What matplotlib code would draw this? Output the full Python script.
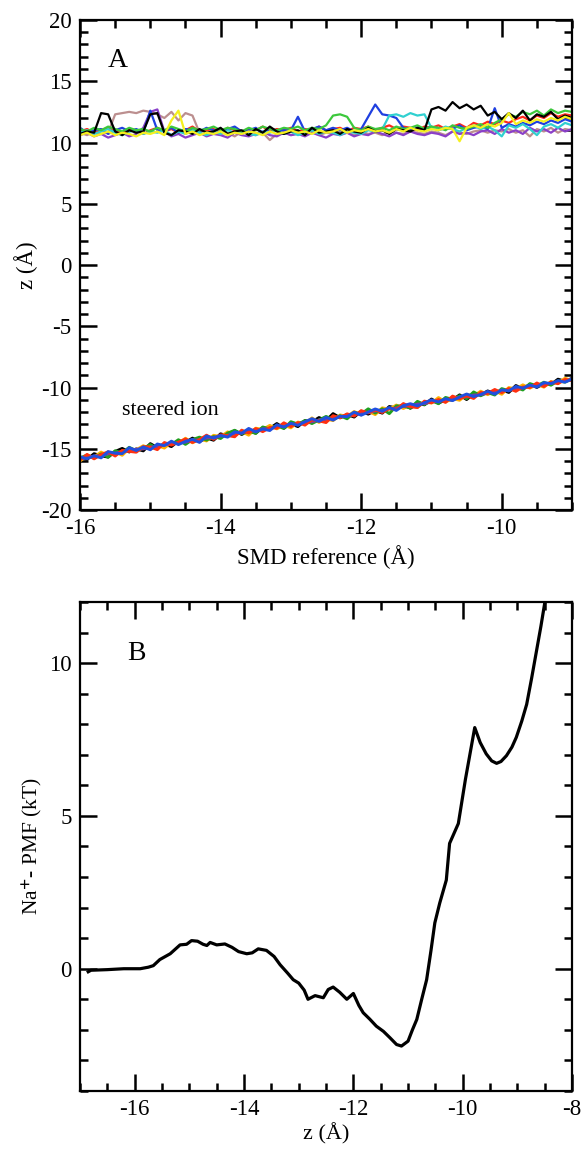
import numpy as np
import matplotlib
matplotlib.use('Agg')
import matplotlib.pyplot as plt
from matplotlib.ticker import MultipleLocator

# --- Panel A: SMD trajectories (z vs reference), sampled every 0.1 A ---
smd_ref = np.linspace(-16.0, -9.0, 71)

# upper group (ions sitting near z ~ 11)
up_black = [10.7, 10.9, 10.8, 12.4, 12.3, 10.9, 10.6, 11.0, 10.8, 10.9,
            12.3, 12.4, 10.8, 10.6, 11.0, 10.9, 10.7, 11.1, 10.8, 10.9,
            11.2, 10.7, 10.9, 11.0, 10.6, 11.1, 10.8, 11.3, 10.9, 10.7,
            10.9, 11.0, 10.6, 11.2, 10.8, 10.9, 11.0, 10.7, 11.1, 10.9,
            10.8, 11.2, 10.9, 11.0, 10.7, 11.1, 11.0, 10.9, 11.2, 11.0,
            12.7, 12.9, 12.6, 13.3, 12.8, 13.1, 12.7, 13.0, 12.2, 12.5,
            11.9, 12.4, 12.0, 12.6, 11.8, 12.3, 12.1, 12.5, 11.9, 12.2, 12.0]
up_red = [10.9, 11.1, 10.8, 11.0, 11.2, 10.9, 10.8, 11.1, 11.0, 10.7,
          11.0, 11.2, 10.9, 11.1, 10.8, 11.0, 11.3, 10.9, 11.0, 11.1,
          10.8, 11.2, 11.0, 10.9, 11.1, 11.0, 11.3, 10.9, 11.1, 11.0,
          11.2, 10.9, 11.1, 11.0, 11.3, 11.0, 11.1, 11.2, 10.9, 11.2,
          11.1, 11.3, 11.0, 11.2, 11.4, 11.1, 11.3, 11.2, 11.0, 11.3,
          11.2, 11.4, 11.1, 11.3, 11.5, 11.2, 11.6, 11.4, 11.7, 11.5,
          11.8, 11.6, 11.9, 12.1, 11.8, 12.2, 12.0, 12.4, 12.1, 12.3, 12.2]
up_green = [11.1, 10.9, 11.2, 11.0, 11.3, 11.1, 10.9, 11.2, 11.0, 11.1,
            10.9, 11.2, 11.0, 11.3, 11.1, 10.9, 11.2, 11.0, 11.1, 11.3,
            11.0, 11.2, 11.1, 10.9, 11.2, 11.0, 11.3, 11.1, 11.0, 11.2,
            11.1, 11.3, 11.0, 11.2, 11.1, 11.4, 12.2, 12.3, 12.1, 11.2,
            11.0, 11.3, 11.1, 11.2, 11.0, 11.3, 11.1, 11.2, 11.4, 11.1,
            11.3, 11.2, 11.0, 11.4, 11.2, 11.1, 11.3, 11.5, 11.2, 11.6,
            11.9, 12.3, 12.1, 12.5, 12.3, 12.6, 12.2, 12.7, 12.4, 12.6, 12.5]
up_blue = [11.2, 10.8, 11.0, 11.1, 10.7, 11.0, 11.2, 10.9, 11.1, 10.8,
           12.6, 11.0, 10.9, 11.2, 10.8, 11.1, 11.0, 10.9, 11.2, 11.0,
           10.8, 11.1, 11.3, 10.9, 11.0, 11.2, 10.8, 11.1, 11.0, 11.0,
           11.0, 12.1, 10.9, 11.1, 11.3, 11.0, 11.2, 11.0, 11.2, 10.9,
           11.1, 12.1, 13.1, 12.3, 12.2, 12.0, 11.2, 11.0, 11.2, 11.1,
           11.3, 11.0, 11.2, 11.1, 11.4, 11.0, 11.2, 11.3, 11.1, 12.8,
           11.2, 11.5, 11.3, 11.6, 11.4, 11.7, 11.5, 11.8, 11.6, 11.9, 11.7]
up_yellow = [10.6, 10.8, 10.5, 10.7, 10.9, 10.6, 10.8, 10.7, 10.5, 10.8,
             10.7, 10.9, 10.6, 11.8, 12.6, 10.7, 10.9, 10.6, 10.8, 10.7,
             10.9, 10.6, 10.8, 10.7, 10.9, 10.8, 10.6, 10.9, 10.7, 10.8,
             11.0, 10.8, 10.9, 10.7, 11.0, 10.8, 10.9, 11.1, 10.8, 11.0,
             10.9, 11.1, 10.9, 11.0, 10.8, 11.1, 10.9, 11.2, 11.0, 10.9,
             11.1, 11.0, 11.2, 11.1, 10.1, 11.2, 11.4, 11.2, 11.5, 11.3,
             11.6, 12.4, 11.5, 11.8, 11.6, 11.9, 11.7, 12.0, 11.8, 12.1, 11.9]
up_brown = [10.8, 10.6, 10.9, 10.7, 10.8, 12.3, 12.4, 12.5, 12.4, 12.6,
            12.5, 12.3, 12.0, 12.5, 11.8, 12.4, 12.2, 10.8, 10.6, 10.9,
            10.7, 10.8, 10.5, 10.9, 10.7, 10.6, 10.8, 10.2, 10.7, 10.9,
            10.6, 10.8, 10.7, 10.9, 10.6, 10.8, 10.7, 10.9, 10.8, 10.6,
            10.9, 10.7, 10.8, 10.6, 10.9, 10.8, 10.7, 10.9, 10.8, 10.7,
            10.9, 10.8, 10.6, 10.9, 10.8, 10.7, 10.9, 11.0, 10.8, 11.0,
            10.9, 11.1, 10.8, 11.0, 10.5, 11.1, 10.9, 11.2, 10.8, 11.1, 11.0]
up_violet = [10.6, 10.8, 10.5, 10.7, 10.4, 10.6, 10.8, 10.5, 10.7, 11.2,
             12.5, 12.7, 10.9, 10.5, 10.7, 10.4, 10.6, 10.8, 10.5, 10.7,
             10.6, 10.4, 10.8, 10.6, 10.5, 10.7, 10.9, 10.6, 10.5, 10.8,
             10.6, 10.7, 10.5, 10.8, 10.6, 10.4, 10.7, 10.6, 10.8, 10.5,
             10.7, 10.6, 10.9, 10.7, 10.5, 10.8, 10.6, 10.9, 10.7, 10.6,
             10.8, 10.7, 10.5, 10.9, 10.7, 10.8, 10.6, 10.9, 11.0, 10.7,
             11.1, 10.8, 11.0, 10.7, 11.2, 10.9, 11.1, 10.8, 11.2, 10.9, 11.1]
up_cyan = [10.8, 11.0, 10.7, 10.9, 11.1, 10.8, 10.6, 10.9, 11.0, 10.7,
           10.9, 10.8, 11.0, 10.6, 10.9, 10.7, 11.0, 10.8, 10.6, 10.9,
           10.7, 11.0, 10.8, 10.9, 10.7, 10.6, 10.9, 10.8, 11.0, 10.7,
           10.9, 10.6, 10.8, 11.0, 10.7, 10.9, 10.8, 10.6, 10.9, 10.8,
           10.7, 11.0, 10.9, 11.1, 12.2, 12.3, 12.1, 12.4, 12.2, 12.3,
           11.2, 11.0, 11.3, 11.1, 10.9, 11.2, 11.4, 11.1, 11.3, 11.0,
           10.5, 11.4, 11.2, 11.5, 11.1, 10.6, 11.3, 11.5, 11.2, 11.6, 11.4]

# lower group (the steered ion)
lo_black = [-15.70, -15.86, -15.40, -15.57, -15.68, -15.22, -14.97, -15.26, -15.01, -15.17,
            -14.58, -14.91, -14.61, -14.82, -14.36, -14.47, -14.13, -14.41, -14.12, -14.30,
            -13.78, -13.95, -13.52, -13.83, -13.54, -13.72, -13.28, -13.33, -12.94, -13.31,
            -12.96, -13.19, -12.70, -12.81, -12.45, -12.70, -12.13, -12.47, -12.20, -12.41,
            -11.93, -12.17, -11.88, -12.09, -11.55, -11.67, -11.41, -11.69, -11.30, -11.41,
            -10.94, -11.28, -10.99, -11.02, -10.60, -10.98, -10.52, -10.60, -10.28, -10.51,
            -10.19, -10.40, -9.84, -10.08, -9.75, -9.99, -9.67, -9.75, -9.32, -9.49, -9.25]
lo_orange = [-16.00, -15.56, -15.67, -15.27, -15.55, -15.26, -15.53, -14.98, -15.08, -14.75,
             -15.03, -14.74, -14.94, -14.48, -14.59, -14.14, -14.51, -14.21, -14.36, -13.90,
             -14.01, -13.62, -13.89, -13.60, -13.89, -13.32, -13.42, -13.09, -13.37, -13.08,
             -13.29, -12.82, -12.93, -12.48, -12.85, -12.56, -12.70, -12.24, -12.35, -11.96,
             -12.23, -11.94, -12.21, -11.66, -11.77, -11.43, -11.71, -11.42, -11.63, -11.17,
             -11.27, -10.82, -11.19, -10.90, -11.04, -10.58, -10.69, -10.30, -10.58, -10.28,
             -10.55, -10.00, -10.11, -9.78, -10.05, -9.76, -9.97, -9.51, -9.62, -9.24, -9.45]
lo_green = [-15.75, -15.51, -15.77, -15.42, -15.68, -15.16, -15.33, -14.88, -15.18, -14.95,
            -14.66, -14.97, -14.57, -14.65, -14.26, -14.64, -14.25, -14.05, -14.29, -14.00,
            -14.16, -13.72, -13.49, -13.78, -13.54, -13.75, -13.22, -13.39, -13.10, -13.35,
            -12.79, -12.99, -12.70, -12.94, -12.65, -12.36, -12.60, -12.31, -12.55, -12.03,
            -12.16, -11.74, -12.08, -11.74, -12.13, -11.50, -11.51, -11.67, -11.13, -11.39,
            -11.07, -11.32, -10.81, -10.97, -10.67, -10.91, -10.36, -10.67, -10.41, -10.61,
            -10.09, -10.26, -9.99, -10.20, -9.68, -9.86, -9.57, -9.81, -9.46, -9.56, -9.30]
lo_violet = [-15.82, -15.74, -15.60, -15.56, -15.40, -15.37, -15.22, -15.19, -15.04, -15.01,
             -14.86, -14.82, -14.68, -14.64, -14.50, -14.45, -14.31, -14.27, -14.12, -14.08,
             -13.94, -13.90, -13.76, -13.71, -13.58, -13.53, -13.38, -13.35, -13.20, -13.16,
             -13.02, -12.97, -12.83, -12.79, -12.65, -12.61, -12.46, -12.42, -12.28, -12.24,
             -12.10, -12.05, -11.91, -11.87, -11.73, -11.68, -11.54, -11.50, -11.36, -11.31,
             -11.17, -11.13, -10.99, -10.95, -10.80, -10.76, -10.62, -10.58, -10.44, -10.39,
             -10.25, -10.21, -10.07, -10.03, -9.88, -9.84, -9.70, -9.66, -9.52, -9.47, -9.33]
lo_red = [-15.90, -15.46, -15.82, -15.47, -15.25, -15.59, -15.13, -15.21, -15.28, -14.82,
          -14.86, -15.07, -14.49, -14.70, -14.46, -14.20, -14.48, -14.25, -13.89, -14.23,
          -13.86, -13.92, -14.02, -13.48, -13.71, -13.35, -13.60, -13.26, -13.32, -12.88,
          -13.19, -12.86, -13.07, -12.64, -12.72, -12.86, -12.30, -12.47, -12.15, -12.33,
          -11.89, -12.07, -11.83, -12.04, -11.70, -11.80, -11.31, -11.57, -11.63, -11.11,
          -11.24, -10.98, -11.21, -10.70, -10.92, -10.68, -10.89, -10.40, -10.48, -10.16,
          -10.42, -10.08, -10.31, -9.95, -10.00, -9.63, -9.92, -9.55, -9.69, -9.34, -9.43]
lo_blue = [-15.65, -15.81, -15.57, -15.74, -15.23, -15.36, -15.40, -14.91, -15.14, -14.85,
           -15.08, -14.61, -14.74, -14.38, -14.66, -14.40, -14.23, -14.48, -13.96, -14.13,
           -13.91, -14.05, -13.62, -13.73, -13.34, -13.62, -13.38, -13.51, -13.04, -13.23,
           -12.92, -13.09, -12.80, -12.54, -12.77, -12.43, -12.66, -12.34, -12.38, -12.01,
           -12.26, -12.00, -11.75, -11.94, -11.63, -11.87, -11.48, -11.32, -11.50, -11.24,
           -11.01, -11.18, -10.91, -11.07, -10.77, -10.53, -10.74, -10.57, -10.31, -10.54,
           -10.19, -10.28, -9.91, -10.05, -9.80, -9.96, -9.60, -9.68, -9.44, -9.56, -9.30]

upper_series = [
    (up_brown, '#bc8f8f'), (up_violet, '#8a3fc8'), (up_red, '#ff2a1a'),
    (up_blue, '#1f3fe0'), (up_cyan, '#30d0d0'), (up_green, '#3cc83c'),
    (up_black, 'black'), (up_yellow, '#f5f01e'),
]
lower_series = [
    (lo_black, 'black'), (lo_orange, '#ffb000'), (lo_green, '#1fa01f'),
    (lo_violet, '#7a3aa8'), (lo_red, '#ff3010'), (lo_blue, '#2050e0'),
]

# --- Panel B: Na+ PMF ---
pmf_z = [-16.85, -16.8, -16.5, -16.2, -15.9, -15.75, -15.66, -15.54, -15.35, -15.17,
         -15.05, -14.96, -14.85, -14.75, -14.68, -14.62, -14.5, -14.35, -14.22, -14.1,
         -13.95, -13.85, -13.74, -13.59, -13.45, -13.34, -13.2, -13.1, -13.0, -12.9,
         -12.83, -12.7, -12.55, -12.46, -12.37, -12.25, -12.12, -12.0, -11.9, -11.82,
         -11.7, -11.58, -11.45, -11.33, -11.21, -11.12, -11.0, -10.92, -10.84, -10.75,
         -10.66, -10.58, -10.51, -10.42, -10.3, -10.24, -10.08, -9.95, -9.78, -9.68,
         -9.57, -9.47, -9.38, -9.3, -9.2, -9.1, -9.02, -8.92, -8.83, -8.74,
         -8.65, -8.57, -8.5, -8.45]
pmf_kt = [-0.1, -0.05, -0.03, 0.0, 0.0, 0.05, 0.1, 0.3, 0.49, 0.78,
          0.8, 0.92, 0.9, 0.8, 0.76, 0.86, 0.78, 0.81, 0.7, 0.56,
          0.49, 0.52, 0.65, 0.6, 0.4, 0.13, -0.15, -0.36, -0.47, -0.7,
          -1.0, -0.88, -0.95, -0.68, -0.6, -0.77, -1.0, -0.81, -1.2, -1.44,
          -1.65, -1.88, -2.05, -2.26, -2.48, -2.53, -2.37, -2.0, -1.66, -1.0,
          -0.36, 0.6, 1.5, 2.15, 2.9, 4.1, 4.75, 6.2, 7.89, 7.4,
          7.03, 6.8, 6.72, 6.78, 6.97, 7.25, 7.57, 8.1, 8.65, 9.5,
          10.4, 11.2, 11.96, 12.4]


def style_axes(ax):
    # xmgrace-like frame: ticks inside on all four sides
    for s in ax.spines.values():
        s.set_linewidth(1.6)
    ax.tick_params(which='both', direction='in', top=True, right=True, labelsize=16.5)
    ax.tick_params(which='major', length=12, width=1.8, pad=6)
    ax.tick_params(which='minor', length=6, width=1.8)


def main():
    plt.rcParams['font.family'] = ['Liberation Serif', 'DejaVu Serif']
    plt.rcParams['mathtext.fontset'] = 'stix'
    plt.rcParams['axes.unicode_minus'] = False

    fig = plt.figure(figsize=(5.82, 11.49), dpi=100)
    ax_a = fig.add_axes([0.1375, 0.5561, 0.8454, 0.4265])
    ax_b = fig.add_axes([0.1375, 0.0505, 0.8454, 0.4256])

    # Panel A
    for vals, col in upper_series:
        ax_a.plot(smd_ref, vals, color=col, lw=1.6)
    for vals, col in lower_series:
        ax_a.plot(smd_ref, vals, color=col, lw=2.1)
    ax_a.set_xlim(-16, -9)
    ax_a.set_ylim(-20, 20)
    ax_a.xaxis.set_major_locator(MultipleLocator(2))
    ax_a.xaxis.set_minor_locator(MultipleLocator(0.5))
    ax_a.yaxis.set_major_locator(MultipleLocator(5))
    ax_a.yaxis.set_minor_locator(MultipleLocator(1))
    style_axes(ax_a)
    ax_a.set_xlabel('SMD reference (Å)', fontsize=16.5, labelpad=4)
    ax_a.set_ylabel('z (Å)', fontsize=16.5, labelpad=2)
    ax_a.text(-15.46, 16.7, 'A', fontsize=20, ha='center', va='center')
    ax_a.text(-15.4, -11.9, 'steered ion', fontsize=16, ha='left', va='center')

    # Panel B
    ax_b.plot(pmf_z, pmf_kt, color='black', lw=2.3)
    ax_b.set_xlim(-17, -8)
    ax_b.set_ylim(-4, 12)
    ax_b.xaxis.set_major_locator(MultipleLocator(2))
    ax_b.xaxis.set_minor_locator(MultipleLocator(0.5))
    ax_b.yaxis.set_major_locator(MultipleLocator(5))
    ax_b.yaxis.set_minor_locator(MultipleLocator(1))
    style_axes(ax_b)
    ax_b.set_xlabel('z (Å)', fontsize=16, labelpad=2)
    ax_b.set_ylabel(r'Na$^{\mathbf{+}}$- PMF (kT)', fontsize=15.5, labelpad=4)
    ax_b.text(-15.96, 10.3, 'B', fontsize=20, ha='center', va='center')

    fig.savefig('out.png', dpi=100)


if __name__ == '__main__':
    main()
